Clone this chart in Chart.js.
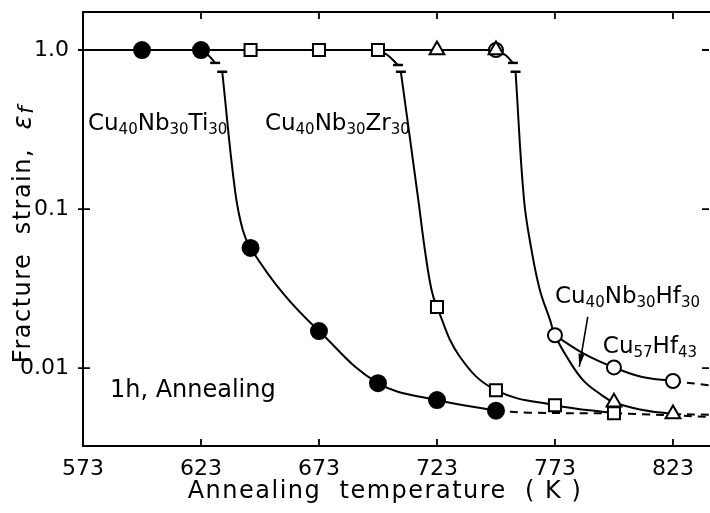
<!DOCTYPE html>
<html><head><meta charset="utf-8">
<script src="https://cdn.jsdelivr.net/npm/chart.js@4/dist/chart.umd.min.js"></script>
<style>html,body{margin:0;padding:0;background:#fff}#wrap{width:710px;height:513px}</style>
</head><body><div id="wrap"><canvas id="c" width="710" height="513"></canvas></div>
<script>
// ---- tick values / labels ----
const xTicks = [573, 623, 673, 723, 773, 823];
const yTicks = [0.01, 0.1, 1];
const yTickLabels = ['0.01', '0.1', '1.0'];

// ---- measured points (markers) ----
const tiT = [598, 623, 644, 673, 698, 723, 748];
const tiE = [1, 1, 0.057, 0.0171, 0.00805, 0.0063, 0.0054];
const zrT = [644, 673, 698, 723, 748, 773, 798];
const zrE = [1, 1, 1, 0.0242, 0.00727, 0.00585, 0.00521];
const hf30T = [723, 748, 798, 823];
const hf30E = [1, 1, 0.0061, 0.00514];
const hf43T = [748, 773, 798, 823];
const hf43E = [1, 0.0161, 0.0101, 0.0083];

// ---- curve paths ----
const topT = [573, 748];
const topE = [1, 1];
const tiUpT = [623, 626, 629];
const tiUpE = [1, 0.93, 0.83];
const tiLoT = [632, 637.4, 640.7, 644, 657.7, 673, 698, 723, 748];
const tiLoE = [0.73, 0.1316, 0.0738, 0.057, 0.0296, 0.0171, 0.00805, 0.0063, 0.0054];
const tiDashT = [748, 762, 797];
const tiDashE = [0.0054, 0.00525, 0.0052];
const zrUpT = [698, 702, 706.5];
const zrUpE = [1, 0.93, 0.805];
const zrLoT = [707.7, 715.1, 717.9, 720.7, 723, 732.7, 748, 773, 798];
const zrLoE = [0.73, 0.114, 0.055, 0.031, 0.0242, 0.0118, 0.00727, 0.00585, 0.00521];
const zrDashT = [798, 838.7];
const zrDashE = [0.00521, 0.00494];
const hfUpT = [748, 752, 755.2];
const hfUpE = [1, 0.93, 0.83];
const hf30LoT = [756.3, 759.9, 763.1, 766.6, 770.9, 773, 778, 784.9, 792, 798, 809, 823];
const hf30LoE = [0.73, 0.114, 0.055, 0.031, 0.0201, 0.0161, 0.0118, 0.0084, 0.0069, 0.0061, 0.0055, 0.00514];
const hf30DashT = [823, 838.7];
const hf30DashE = [0.00514, 0.0051];
const hf43LoT = [773, 785, 798, 810, 823];
const hf43LoE = [0.0161, 0.0124, 0.0101, 0.0088, 0.0083];
const hf43DashT = [823, 838.7];
const hf43DashE = [0.0083, 0.0078];

const pts = (t, e) => t.map((v, i) => ({x: v, y: e[i]}));

function marker(t, e, style, r, fill) {
  return {data: pts(t, e), showLine: false, pointStyle: style, pointRadius: r, pointHoverRadius: r,
    pointBackgroundColor: fill, pointBorderColor: '#000', pointBorderWidth: 2};
}
function curve(t, e, opts = {}) {
  return Object.assign({data: pts(t, e), showLine: true, pointRadius: 0, borderColor: '#000',
    borderWidth: 2, tension: 0.4, fill: false}, opts);
}
const dash = {borderDash: [8, 6]};

const datasets = [
  marker(hf30T, hf30E, 'triangle', 8.5, '#fff'),
  marker(hf43T, hf43E, 'circle', 7, '#fff'),
  marker(tiT, tiE, 'circle', 8, '#000'),
  marker(zrT, zrE, 'rect', 8.5, '#fff'),
  curve(topT, topE),
  curve(tiUpT, tiUpE, {brk: 'end'}),
  curve(tiLoT, tiLoE, {brk: 'start'}),
  curve(tiDashT, tiDashE, dash),
  curve(zrUpT, zrUpE, {brk: 'end'}),
  curve(zrLoT, zrLoE, {brk: 'start'}),
  curve(zrDashT, zrDashE, dash),
  curve(hfUpT, hfUpE, {brk: 'end'}),
  curve(hf30LoT, hf30LoE, {brk: 'start'}),
  curve(hf30DashT, hf30DashE, dash),
  curve(hf43LoT, hf43LoE),
  curve(hf43DashT, hf43DashE, dash)
];

const FONT = '"DejaVu Sans", sans-serif';
const labels = [
  {t: 575.1, e: 0.314, parts: [['Cu',0],['40',1],['Nb',0],['30',1],['Ti',0],['30',1]]},
  {t: 650.1, e: 0.314, parts: [['Cu',0],['40',1],['Nb',0],['30',1],['Zr',0],['30',1]]},
  {t: 773.0, e: 0.0256, parts: [['Cu',0],['40',1],['Nb',0],['30',1],['Hf',0],['30',1]]},
  {t: 793.3, e: 0.0124, parts: [['Cu',0],['57',1],['Hf',0],['43',1]]},
  {t: 584.4, e: 0.00657, parts: [['1h, Annealing',0]], size: 24}
];
const arrowFrom = {t: 786.9, e: 0.0210};
const arrowTo = {t: 783.3, e: 0.0102};

const deco = {
  id: 'deco',
  afterDatasetsDraw(chart) {
    const {ctx} = chart;
    ctx.save();
    ctx.strokeStyle = '#000';
    ctx.lineWidth = 2.5;
    chart.data.datasets.forEach((ds, i) => {
      if (!ds.brk) return;
      const meta = chart.getDatasetMeta(i);
      const el = ds.brk === 'end' ? meta.data[meta.data.length - 1] : meta.data[0];
      ctx.beginPath(); ctx.moveTo(el.x - 5, el.y); ctx.lineTo(el.x + 5, el.y); ctx.stroke();
    });
    ctx.restore();
  },
  afterDraw(chart) {
    const {ctx, chartArea: a, scales: {x, y}} = chart;
    ctx.save();
    ctx.strokeStyle = '#000'; ctx.fillStyle = '#000';
    ctx.lineWidth = 2;
    ctx.beginPath(); ctx.moveTo(a.left - 1, a.top); ctx.lineTo(a.right, a.top); ctx.stroke();
    ctx.lineWidth = 1.8;
    xTicks.slice(1).forEach(v => {
      const px = x.getPixelForValue(v);
      ctx.beginPath();
      ctx.moveTo(px, a.bottom); ctx.lineTo(px, a.bottom - 7);
      ctx.moveTo(px, a.top); ctx.lineTo(px, a.top + 7);
      ctx.stroke();
    });
    yTicks.forEach(v => {
      const py = y.getPixelForValue(v);
      ctx.beginPath();
      ctx.moveTo(a.left - 5, py); ctx.lineTo(a.left + 7, py);
      ctx.moveTo(a.right - 1, py); ctx.lineTo(a.right - 8, py);
      ctx.stroke();
    });
    // text annotations
    ctx.textBaseline = 'alphabetic'; ctx.textAlign = 'left';
    labels.forEach(l => {
      let px = x.getPixelForValue(l.t);
      const py = y.getPixelForValue(l.e);
      const main = l.size || 23;
      l.parts.forEach(([s, sub]) => {
        ctx.font = (sub ? 15 : main) + 'px ' + FONT;
        ctx.fillText(s, px, py + (sub ? 4 : 0));
        px += ctx.measureText(s).width;
      });
    });
    // arrow
    const x1 = x.getPixelForValue(arrowFrom.t), y1 = y.getPixelForValue(arrowFrom.e);
    const x2 = x.getPixelForValue(arrowTo.t), y2 = y.getPixelForValue(arrowTo.e);
    ctx.lineWidth = 1.6;
    ctx.beginPath(); ctx.moveTo(x1, y1); ctx.lineTo(x2, y2); ctx.stroke();
    const ang = Math.atan2(y2 - y1, x2 - x1);
    ctx.beginPath();
    ctx.moveTo(x2, y2);
    ctx.lineTo(x2 - 13 * Math.cos(ang) + 3 * Math.sin(ang), y2 - 13 * Math.sin(ang) - 3 * Math.cos(ang));
    ctx.lineTo(x2 - 13 * Math.cos(ang) - 3 * Math.sin(ang), y2 - 13 * Math.sin(ang) + 3 * Math.cos(ang));
    ctx.closePath(); ctx.fill();
    // axis titles
    ctx.font = '24px ' + FONT;
    ctx.textAlign = 'center'; ctx.textBaseline = 'middle';
    try { ctx.letterSpacing = '1.5px'; } catch (e) {}
    ctx.fillText('Annealing  temperature  ( K )', 385, 492);
    ctx.translate(24, 234);
    ctx.rotate(-Math.PI / 2);
    const p1 = 'Fracture  strain,  ';
    const p2 = 'ε';
    const p3 = 'f';
    ctx.font = '24px ' + FONT;
    const w1 = ctx.measureText(p1).width;
    ctx.font = 'italic 26px ' + FONT;
    const w2 = ctx.measureText(p2).width;
    ctx.font = 'italic 22px ' + FONT;
    const w3 = ctx.measureText(p3).width;
    let sx = -(w1 + w2 + w3) / 2;
    ctx.textAlign = 'left';
    ctx.font = '24px ' + FONT; ctx.fillText(p1, sx, 0); sx += w1;
    ctx.font = 'italic 26px ' + FONT; ctx.fillText(p2, sx, 0); sx += w2;
    ctx.font = 'italic 22px ' + FONT; ctx.fillText(p3, sx, 3);
    ctx.restore();
  }
};

const zeroPad = s => {
  s.paddingLeft = 0; s.paddingRight = 0; s.paddingTop = 0; s.paddingBottom = 0;
  if (s._margins) { s._margins.right = 0; }
};

new Chart(document.getElementById('c'), {
  type: 'scatter',
  data: {datasets},
  options: {
    responsive: false, animation: false, devicePixelRatio: 1,
    layout: {autoPadding: false, padding: {top: 12, right: 0, bottom: 0, left: 0}},
    plugins: {legend: {display: false}, tooltip: {enabled: false}},
    scales: {
      x: {
        type: 'linear', min: 573, max: 838.7,
        grid: {display: false},
        border: {display: true, color: '#000', width: 2},
        afterBuildTicks: s => { s.ticks = xTicks.map(v => ({value: v})); },
        afterFit: s => { s.height = 67; zeroPad(s); },
        ticks: {autoSkip: false, maxRotation: 0, padding: 2, color: '#000',
          font: {family: FONT, size: 22}, callback: v => String(v)}
      },
      y: {
        type: 'logarithmic', min: 0.00324, max: 1.734,
        grid: {display: false},
        border: {display: true, color: '#000', width: 2},
        afterBuildTicks: s => { s.ticks = yTicks.map(v => ({value: v})); },
        afterFit: s => { s.width = 83; zeroPad(s); },
        ticks: {autoSkip: false, padding: 6, color: '#000',
          font: {family: FONT, size: 22},
          callback: v => { const i = yTicks.findIndex(t => Math.abs(t - v) / t < 1e-6); return i >= 0 ? yTickLabels[i] : ''; }}
      }
    }
  },
  plugins: [deco]
});
</script></body></html>
